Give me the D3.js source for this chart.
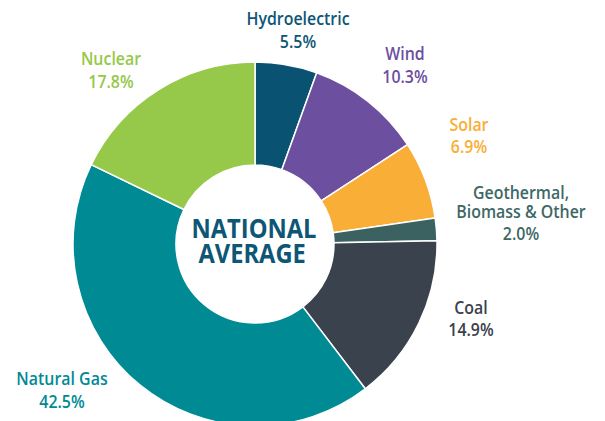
<!DOCTYPE html>
<html>
<head>
<meta charset="utf-8">
<script src="https://cdn.jsdelivr.net/npm/d3@7"></script>
<style>
html,body{margin:0;padding:0;background:#fff;}
svg{display:block;}
text{font-family:"Open Sans",sans-serif;font-weight:600;}
</style>
</head>
<body>
<svg id="chart" width="605" height="421"></svg>
<script>
const categories = ["Hydroelectric", "Wind", "Solar", "Geothermal, Biomass & Other", "Coal", "Natural Gas", "Nuclear"];
const values = [5.5, 10.3, 6.9, 2.0, 14.9, 42.5, 17.8];
const colors = ["#0a5272", "#6c4f9f", "#f9ae37", "#3b6161", "#3a424d", "#008a94", "#96c84a"];
const labelColors = ["#0e5676", "#6c4f9f", "#f9ae37", "#3e6866", "#3b414b", "#008a94", "#96c84a"];
const labelLines = [["Hydroelectric"], ["Wind"], ["Solar"], ["Geothermal,", "Biomass & Other"], ["Coal"], ["Natural Gas"], ["Nuclear"]];
const labelPos = [[298, 25], [405, 60], [469, 130.5], [521, 199], [471, 313.5], [62, 385], [111, 65]];
const centerLines = ["NATIONAL", "AVERAGE"];

const svg = d3.select("#chart");
const cx = 255, cy = 244, outerR = 182, innerR = 79;

const pie = d3.pie().sort(null).value(d => d.value);
const arc = d3.arc().innerRadius(innerR).outerRadius(outerR);
const data = categories.map((c, i) => ({name: c, value: values[i], color: colors[i]}));

const g = svg.append("g").attr("transform", `translate(${cx},${cy})`);
g.selectAll("path").data(pie(data)).join("path")
  .attr("d", arc)
  .attr("fill", d => d.data.color)
  .attr("stroke", "#fff")
  .attr("stroke-width", 1.5)
  .attr("stroke-linejoin", "round");

// center text (one text element, two lines)
const ctext = g.append("text")
  .attr("text-anchor", "middle")
  .attr("fill", "#0d5675")
  .style("font-weight", 700)
  .style("font-size", "26px");
ctext.selectAll("tspan").data(centerLines).join("tspan")
  .attr("x", (d, i) => i === 0 ? 0 : -2)
  .attr("y", (d, i) => i === 0 ? -6.5 : 18.5)
  .text(d => d);
const natW = ctext.select("tspan").node().getComputedTextLength();
const csx = 125 / natW;
ctext.attr("transform", `translate(-1,0) scale(${csx},1)`);

// labels
const squeeze = 0.86;
const lg = svg.append("g");
categories.forEach((c, i) => {
  const lines = labelLines[i].concat([d3.format(".1f")(values[i]) + "%"]);
  const t = lg.append("text")
    .attr("transform", `translate(${labelPos[i][0]},${labelPos[i][1]}) scale(${squeeze},1)`)
    .attr("text-anchor", "middle")
    .attr("fill", labelColors[i])
    .style("font-size", "18.5px");
  let y = 0;
  lines.forEach((ln, j) => {
    if (j > 0) y += (lines.length > 2 ? (j === 1 ? 19 : 22.5) : 23);
    t.append("tspan").attr("x", 0).attr("y", y).text(ln);
  });
});
</script>
</body>
</html>
